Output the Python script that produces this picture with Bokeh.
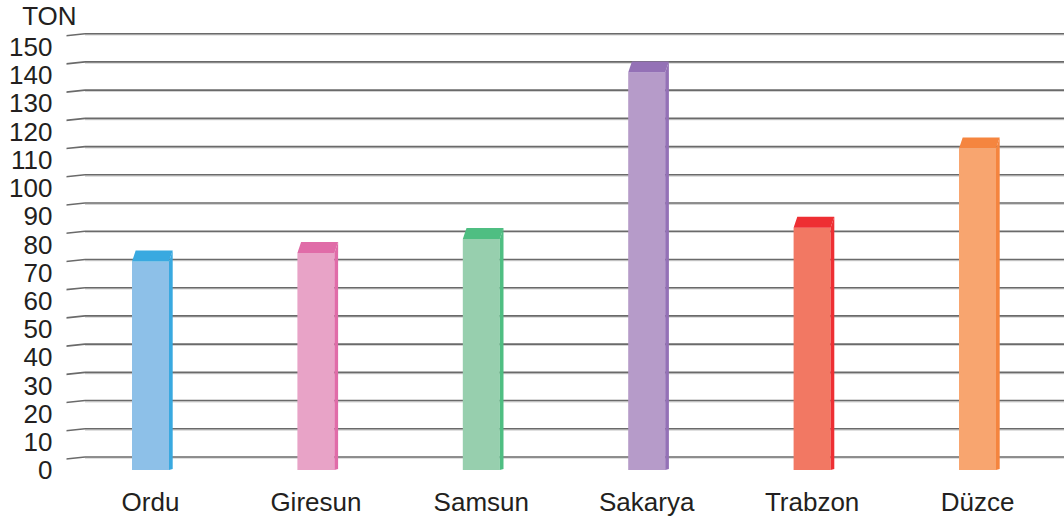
from bokeh.plotting import figure
from bokeh.models import FixedTicker, Range1d, Title
from bokeh.embed import file_html
from bokeh.resources import INLINE

# ---- data ----
categories = ["Ordu", "Giresun", "Samsun", "Sakarya", "Trabzon", "Düzce"]
values = [73, 76, 81, 140, 85, 113]
front_colors = ["#8DC0E8", "#E8A3C7", "#97CFAE", "#B69BC9", "#F27863", "#F8A56F"]
shade_colors = ["#39A9E0", "#E06CA8", "#4FBE82", "#9471B6", "#EE2F33", "#F5853F"]
y_ticks = list(range(0, 151, 10))
unit_label = "TON"

# ---- geometry (pixel-derived constants) ----
S = 2.822          # px per y unit
U = 165.4          # px per category step
FL, FT, FB, FR = 66, 32, 477, 1064   # frame edges in canvas px
x0 = -(150 - FL) / U
x1 = x0 + (FR - FL) / U
y0 = -(FB - 469.8) / S
y1 = (469.8 - FT) / S

front_off = 2.8 / S          # front plane offset relative to label centre
back_grid = front_off + 10.5 / S
back_bar = front_off + 11.0 / S
hw = 18.5 / U                # half front width
sd = 3.7 / U                 # depth shift in x
bar_bottom = 0.1
side_bottom = 0.46

FONT = "Liberation Sans"
TXT = "#231F20"

p = figure(frame_width=FR - FL, frame_height=FB - FT, output_backend="svg",
           toolbar_location=None, x_range=Range1d(x0, x1), y_range=Range1d(y0, y1),
           min_border_left=FL, min_border_top=FT, min_border_right=0,
           min_border_bottom=520 - FB)
p.outline_line_color = None
p.grid.visible = False
p.background_fill_color = "white"
p.border_fill_color = "white"

# gridlines: slanted stub + horizontal back line
gx_front = x0 + (67 - 150 + 150 - FL - (150 - FL)) / U + (67 - FL) / U
gx_back = x0 + (84.5 - FL) / U
p.segment(x0=[gx_front] * len(y_ticks), y0=[t + front_off for t in y_ticks],
          x1=[gx_back] * len(y_ticks), y1=[t + back_grid for t in y_ticks],
          line_color="#6A6A6A", line_width=1.6)
p.segment(x0=[gx_back] * len(y_ticks), y0=[t + back_grid - 0.45 for t in y_ticks],
          x1=[x1] * len(y_ticks), y1=[t + back_grid - 0.45 for t in y_ticks],
          line_color="#D4D4D4", line_width=1.2)
p.segment(x0=[gx_back] * len(y_ticks), y0=[t + back_grid for t in y_ticks],
          x1=[x1] * len(y_ticks), y1=[t + back_grid for t in y_ticks],
          line_color="#6A6A6A", line_width=1.6)

# bars
xs = list(range(len(categories)))
p.quad(left=[c - hw for c in xs], right=[c + hw for c in xs],
       bottom=[bar_bottom] * len(xs), top=[v + front_off for v in values],
       fill_color=front_colors, line_color=None)

side_x, side_y, top_x, top_y = [], [], [], []
for c, v in zip(xs, values):
    ft = v + front_off
    bt = v + back_bar
    side_x.append([c + hw, c + hw, c + hw + sd, c + hw + sd])
    side_y.append([bar_bottom, ft, bt, side_bottom])
    top_x.append([c - hw, c + hw, c + hw + sd, c - hw + sd])
    top_y.append([ft, ft, bt, bt])
p.patches(side_x, side_y, fill_color=shade_colors, line_color=None)
p.patches(top_x, top_y, fill_color=shade_colors, line_color=None)

# axes
p.yaxis.ticker = FixedTicker(ticks=y_ticks)
p.yaxis.axis_line_color = None
p.yaxis.major_tick_line_color = None
p.yaxis.minor_tick_line_color = None
p.yaxis.major_tick_out = 0
p.yaxis.major_tick_in = 0
p.yaxis.major_label_standoff = 14
p.yaxis.major_label_text_font = FONT
p.yaxis.major_label_text_font_size = "26px"
p.yaxis.major_label_text_color = TXT

p.xaxis.ticker = FixedTicker(ticks=xs)
p.xaxis.major_label_overrides = {i: c for i, c in enumerate(categories)}
p.xaxis.axis_line_color = None
p.xaxis.major_tick_line_color = None
p.xaxis.minor_tick_line_color = None
p.xaxis.major_tick_out = 0
p.xaxis.major_tick_in = 0
p.xaxis.major_label_standoff = 9
p.xaxis.major_label_text_font = FONT
p.xaxis.major_label_text_font_size = "26px"
p.xaxis.major_label_text_color = TXT

p.add_layout(Title(text=unit_label, align="left", offset=21.7 - FL, standoff=0,
                   vertical_align="top", text_font=FONT, text_font_size="26px",
                   text_font_style="normal", text_color=TXT), "above")

open("out.html", "w").write(file_html(p, INLINE))
